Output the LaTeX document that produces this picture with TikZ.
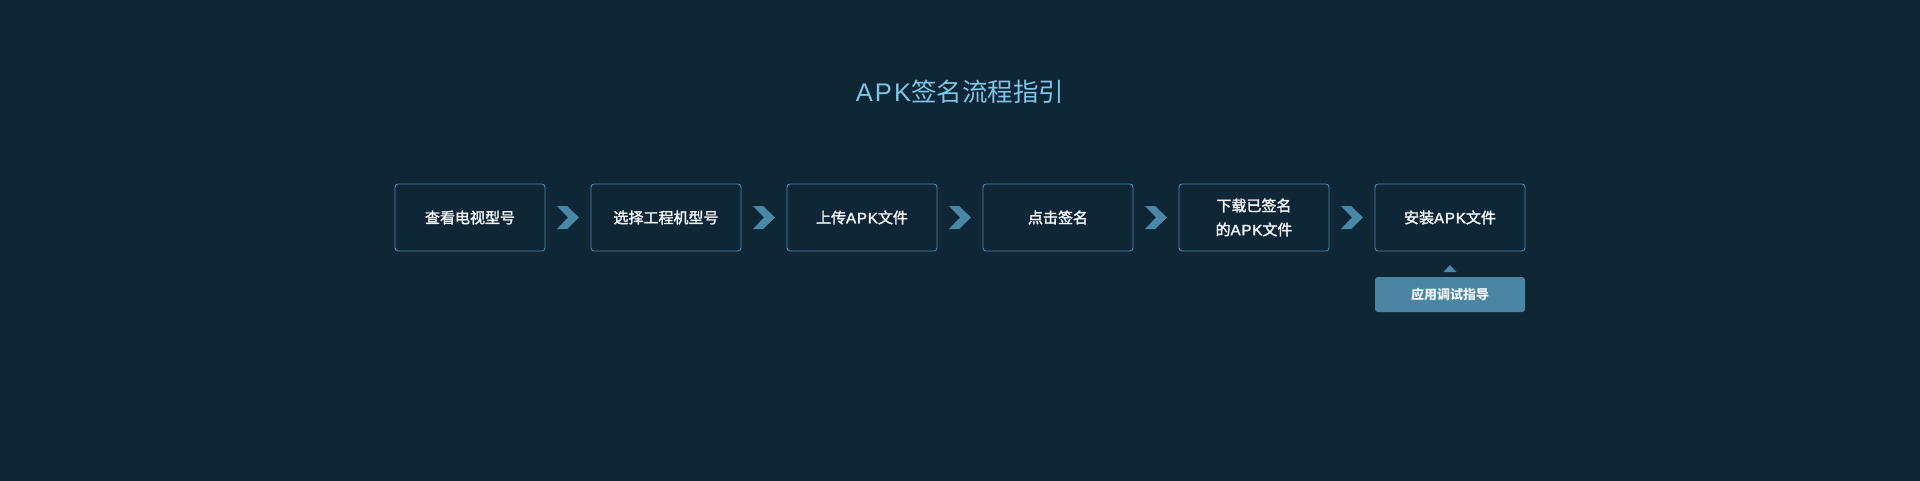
\documentclass[tikz,border=0pt]{standalone}
\usepackage{fontspec}
\setmainfont{Noto Sans CJK SC}
\newfontfamily\medf[FakeBold=2]{Noto Sans CJK SC}
\newfontfamily\latf[LetterSpace=8]{Liberation Sans}
\newfontfamily\latmedf[LetterSpace=6,FakeBold=2]{Liberation Sans}
\usetikzlibrary{positioning,calc}
\definecolor{bg}{HTML}{0F2636}
\definecolor{boxline}{HTML}{4A8AB0}
\definecolor{chev}{HTML}{4A88A8}
\definecolor{titlec}{HTML}{7EC6E6}
\definecolor{btn}{HTML}{4A86A4}
\definecolor{txt}{HTML}{F2F5F7}
\tikzset{
  stepbox/.style={draw=boxline, line width=0.9pt, rounded corners=3pt, fill=bg,
    minimum width=150pt, minimum height=67pt, inner sep=0pt,
    text=txt, font=\fontsize{15}{24}\selectfont\medf, align=center},
  btnbox/.style={fill=btn, rounded corners=3pt, minimum width=150pt, minimum height=35pt,
    inner sep=0pt, text=txt, font=\fontsize{13}{16}\selectfont\bfseries},
  chevron/.style={fill=chev, draw=none}
}
\newcommand{\apk}{{\latmedf APK}}
\begin{document}
\begin{tikzpicture}[x=1pt,y=-1pt]
\useasboundingbox (0,0) rectangle (1920,480);
\fill[bg] (-10,-10) rectangle (1930,490);
\node[text=titlec, font=\fontsize{25.5}{30}\selectfont] (title) at (960,92) {{\latf APK}签名流程指引};
\node[stepbox] (s1) at (470,217.5) {查看电视型号};
\node[stepbox] (s2) at (666,217.5) {选择工程机型号};
\node[stepbox] (s3) at (862,217.5) {上传\apk 文件};
\node[stepbox] (s4) at (1058,217.5) {点击签名};
\node[stepbox] (s5) at (1254,217.5) {下载已签名\\的\apk 文件};
\node[stepbox] (s6) at (1450,217.5) {安装\apk 文件};
\node[btnbox] (b) at (1450,294.5) {应用调试指导};
\foreach \a/\b in {s1/s2,s2/s3,s3/s4,s4/s5,s5/s6}{
  \coordinate (m) at ($(\a.east)!0.5!(\b.west)$);
  \fill[chevron] ([shift={(-11,-11.5)}]m) -- ([shift={(-1,-11.5)}]m) -- ([shift={(11,0)}]m)
     -- ([shift={(-1,11.5)}]m) -- ([shift={(-11,11.5)}]m) -- ([shift={(0,0)}]m) -- cycle;
}
\coordinate (tri) at (1450,265);
\fill[chev] (tri) -- ++(6.5,7) -- ++(-13,0) -- cycle;
\end{tikzpicture}
\end{document}
